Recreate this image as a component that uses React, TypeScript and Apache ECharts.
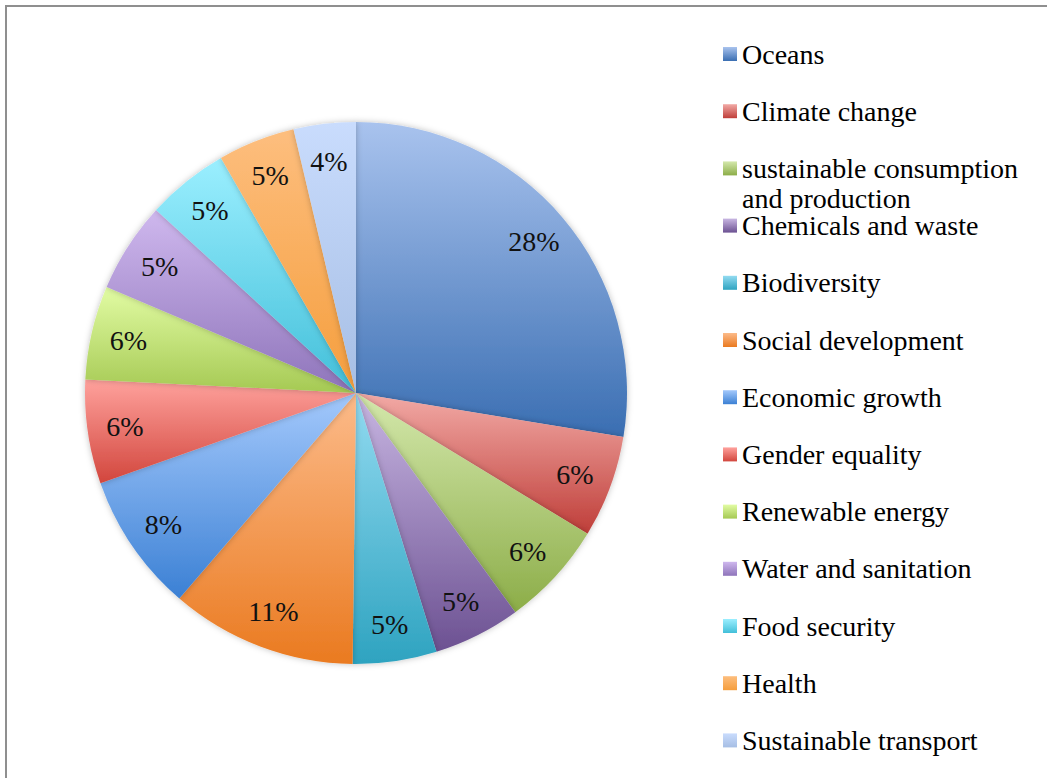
import React, { useEffect, useRef } from "react";
import * as echarts from "echarts";

const categories = [
  "Oceans",
  "Climate change",
  "sustainable consumption",
  "Chemicals and waste",
  "Biodiversity",
  "Social development",
  "Economic growth",
  "Gender equality",
  "Renewable energy",
  "Water and sanitation",
  "Food security",
  "Health",
  "Sustainable transport",
];
const continuationLine = "and production";

const values = [27.6, 6.1, 6.3, 5.2, 5.0, 11.1, 8.3, 6.2, 5.6, 5.4, 4.9, 4.6, 3.7];

const colorsTop = [
  "#a9c3ee", "#f2aaa6", "#d4e8ac", "#c8b6e2", "#93dbf1", "#fcbb8a", "#a4c9fc",
  "#ffa29d", "#e2fca4", "#cfb8ee", "#9befff", "#fdbe7e", "#c9dcfd",
];
const colorsBottom = [
  "#3a6eb2", "#bf3e39", "#8cad48", "#6c5192", "#2ea3c0", "#ea7a20", "#3b80d4",
  "#d2463d", "#a5c953", "#8e74ba", "#42bfd9", "#f59e3d", "#a6bee4",
];

const FONT = "'Liberation Serif', 'Times New Roman', serif";

export default function App() {
  const ref = useRef<HTMLDivElement>(null);
  useEffect(() => {
    if (!ref.current) return;
    const chart = echarts.init(ref.current, null, { renderer: "svg" });
    const grad = (i: number) =>
      new echarts.graphic.LinearGradient(0, 0, 0, 1, [
        { offset: 0, color: colorsTop[i] },
        { offset: 1, color: colorsBottom[i] },
      ]);
    const center = [356, 393];
    const R = 271;
    chart.setOption({
      animation: false,
      backgroundColor: "#ffffff",
      legend: {
        orient: "vertical",
        left: 723,
        top: 39,
        padding: 0,
        itemWidth: 14,
        itemHeight: 14,
        itemGap: 27.2,
        icon: "rect",
        selectedMode: false,
        data: categories,
        textStyle: {
          fontFamily: FONT,
          fontSize: 28,
          color: "#000000",
          lineHeight: 30,
        },
      },
      graphic: [
        {
          type: "rect",
          silent: true,
          shape: { x: 6, y: 6, width: 1200, height: 1000 },
          style: { fill: "none", stroke: "#8f8f8f", lineWidth: 2 },
        },
        {
          type: "text",
          silent: true,
          left: 742,
          top: 184,
          style: {
            text: continuationLine,
            font: `28px ${FONT}`,
            fill: "#000000",
          },
        },
      ],
      series: [
        {
          type: "pie",
          center,
          radius: [0, R],
          startAngle: 90,
          clockwise: true,
          silent: true,
          label: { show: false },
          labelLine: { show: false },
          emphasis: { disabled: true },
          itemStyle: {
            shadowBlur: 6,
            shadowColor: "rgba(0,0,0,0.25)",
          },
          data: categories.map((name, i) => ({
            name,
            value: values[i],
            itemStyle: { color: grad(i) },
          })),
        },
        {
          type: "pie",
          center,
          radius: [190, R],
          startAngle: 90,
          clockwise: true,
          silent: true,
          avoidLabelOverlap: false,
          emphasis: { disabled: true },
          itemStyle: { color: "rgba(0,0,0,0)" },
          labelLine: { show: false },
          label: {
            show: true,
            position: "inside",
            fontFamily: FONT,
            fontSize: 28,
            color: "#111111",
            formatter: (p: any) => `${Math.round(p.percent)}%`,
          },
          data: categories.map((name, i) => ({ name, value: values[i] })),
        },
      ],
    });
    return () => chart.dispose();
  }, []);
  return (
    <div
      ref={ref}
      style={{ position: "absolute", left: 0, top: 0, width: 1047, height: 778 }}
    />
  );
}
